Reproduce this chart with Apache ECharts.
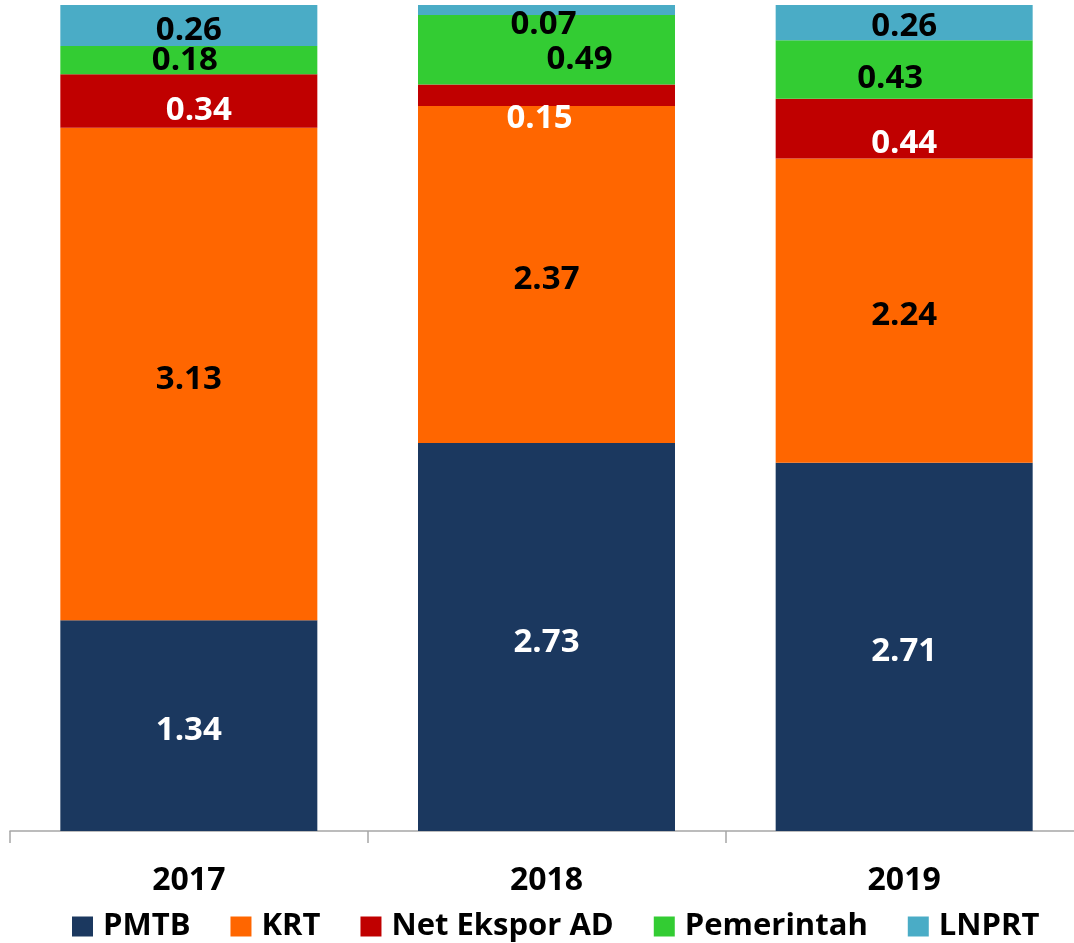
<!DOCTYPE html>
<html>
<head>
<meta charset="utf-8">
<script src="https://cdn.jsdelivr.net/npm/echarts@6/dist/echarts.min.js"></script>
<style>
	html, body { margin: 0; padding: 0; background: #fff; }
	#chart { width: 1074px; height: 943px; }
</style>
</head>
<body>
<div id="chart"></div>
<script>
// categories and contribution values per component
const years = ['2017', '2018', '2019'];
const seriesNames = ['PMTB', 'KRT', 'Net Ekspor AD', 'Pemerintah', 'LNPRT'];
const pmtb = [1.34, 2.73, 2.71];
const krt = [3.13, 2.37, 2.24];
const netEkspor = [0.34, 0.15, 0.44];
const pemerintah = [0.18, 0.49, 0.43];
const lnprt = [0.26, 0.07, 0.26];

const values = [pmtb, krt, netEkspor, pemerintah, lnprt];
const colors = ['#1b385f', '#ff6600', '#c00000', '#33cc33', '#4aacc6'];
const labelColors = ['#fff', '#000', '#fff', '#000', '#000'];
// label nudges [dx, dy] per series per year, as placed in the original
const labelShift = [
	[[0, 5], [0, 6], [0, 5]],
	[[0, 6], [0, 5], [0, 5]],
	[[10, 10], [-7, 23], [0, 15]],
	[[-4, 1], [33, 10], [-14, 9]],
	[[0, 5], [-3, 15], [0, 4]]
];

// every bar is scaled to its year's total (100% stacked)
const totals = years.map((y, i) => values.reduce((s, arr) => s + arr[i], 0));

const font = 'Open Sans';
const chart = echarts.init(document.getElementById('chart'));
chart.setOption({
	animation: false,
	color: colors,
	grid: {
		left: 10,
		top: 5,
		width: 1073,
		height: 826,
		outerBoundsMode: 'none'
	},
	legend: {
		data: seriesNames,
		left: 72,
		top: 911,
		padding: 0,
		itemWidth: 21,
		itemHeight: 20,
		itemGap: 40,
		icon: 'rect',
		textStyle: {
			fontFamily: font,
			fontWeight: 'bold',
			fontSize: 31,
			lineHeight: 31,
			color: '#000',
			padding: [0, 0, 0, 5]
		}
	},
	xAxis: {
		type: 'category',
		data: years,
		axisLine: {
			lineStyle: { color: '#a6a6a6', width: 1.5 }
		},
		axisTick: {
			show: true,
			length: 12,
			lineStyle: { color: '#a6a6a6', width: 1.5 }
		},
		axisLabel: {
			margin: 33,
			fontFamily: font,
			fontWeight: 'bold',
			fontSize: 32,
			lineHeight: 33,
			color: '#000'
		}
	},
	yAxis: {
		type: 'value',
		min: 0,
		max: 100,
		show: false
	},
	series: seriesNames.map((name, si) => ({
		name: name,
		type: 'bar',
		stack: 'total',
		barWidth: 257,
		label: {
			show: true,
			position: 'inside',
			fontFamily: font,
			fontWeight: 'bold',
			fontSize: 33,
			color: labelColors[si],
			formatter: (p) => values[si][p.dataIndex].toFixed(2)
		},
		data: values[si].map((v, i) => ({
			value: v / totals[i] * 100,
			label: { offset: labelShift[si][i] }
		}))
	}))
});
</script>
</body>
</html>
